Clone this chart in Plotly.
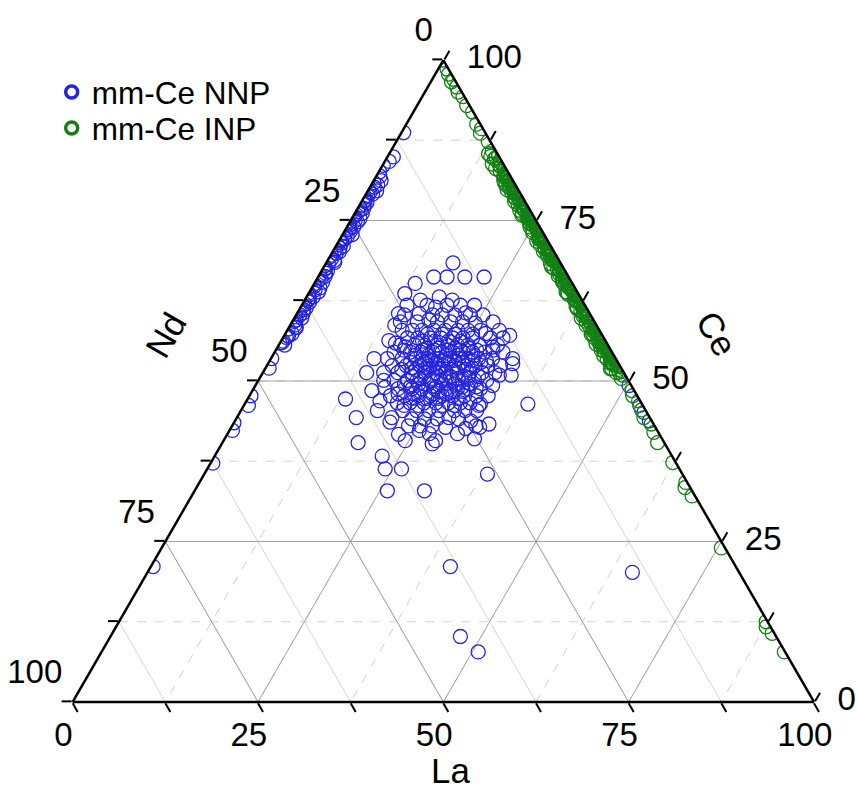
import plotly.graph_objects as go

# ---------------- data (percent) ----------------
# mm-Ce NNP : Ce and La given, Nd = remainder (computed by plotly, sum = 100)
nnp_ce = [
    # outer / scattered points
    68.4, 66.2, 66.2, 66.2, 66.2, 65.2, 63.6, 62.6, 63.1, 62.6,
    61.5, 60.5, 60.5, 60.6, 58.7, 57.9, 59.5, 59.0, 56.3, 55.9,
    57.4, 57.1, 53.5, 55.3, 53.5, 55.3, 47.2, 44.3, 40.4, 45.4,
    49.0, 50.1, 44.3, 43.6, 41.7, 43.0, 42.3, 41.8, 40.7, 40.2,
    52.7, 50.9, 50.9, 49.3, 46.4, 46.4, 43.3, 43.0, 42.8, 42.6,
    41.8, 41.0, 42.8, 45.4, 44.3, 43.8, 40.7, 38.3, 36.3, 36.3,
    32.9, 32.9, 35.5, 21.1, 10.2, 7.8, 20.2, 51.3, 48.5, 46.9,
    # dense core
    61.8, 61.8, 61.8, 61.8, 61.8,
    60.3, 60.3, 60.3, 60.3, 60.3, 60.3,
    59.2, 59.2, 59.2, 59.2, 59.2, 59.2,
    57.9, 57.9, 57.9, 57.9, 57.9, 57.9, 57.9, 57.9,
    56.7, 56.7, 56.7, 56.7, 56.7, 56.7, 56.7, 56.7, 56.7,
    55.6, 55.6, 55.6, 55.6, 55.6, 55.6, 55.6, 55.6, 55.6,
    54.5, 54.5, 54.5, 54.5, 54.5, 54.5, 54.5, 54.5, 54.5, 54.5,
    53.5, 53.5, 53.5, 53.5, 53.5, 53.5, 53.5, 53.5, 53.5, 53.5,
    52.4, 52.4, 52.4, 52.4, 52.4, 52.4, 52.4, 52.4, 52.4, 52.4,
    51.3, 51.3, 51.3, 51.3, 51.3, 51.3, 51.3, 51.3, 51.3, 51.3,
    50.1, 50.1, 50.1, 50.1, 50.1, 50.1, 50.1, 50.1, 50.1,
    48.8, 48.8, 48.8, 48.8, 48.8, 48.8, 48.8, 48.8,
    47.7, 47.7, 47.7, 47.7, 47.7, 47.7, 47.7, 47.7, 47.7,
    46.6, 46.6, 46.6, 46.6, 46.6, 46.6, 46.6,
    45.4, 45.4, 45.4, 45.4, 45.4, 45.4,
    44.1, 44.1, 44.1, 44.1,
    43.0, 43.0,
    56.2, 56.2, 56.2, 56.2,
    55.1, 55.1, 55.1, 55.1,
    54.0, 54.0, 54.0, 54.0, 54.0,
    52.9, 52.9, 52.9, 52.9, 52.9, 52.9,
    51.8, 51.8, 51.8, 51.8, 51.8, 51.8,
    50.7, 50.7, 50.7, 50.7, 50.7, 50.7,
    49.5, 49.5, 49.5, 49.5, 49.5, 49.5,
    48.4, 48.4, 48.4, 48.4,
    47.3, 47.3, 47.3, 47.3,
    57.3, 57.3, 57.3, 57.3,
    54.8, 54.8, 54.8, 54.8, 54.8, 54.8, 54.8,
    53.2, 53.2, 53.2, 53.2, 53.2, 53.2,
    52.0, 52.0, 52.0, 52.0, 52.0,
    50.4, 50.4, 50.4, 50.4, 50.4,
    49.1, 49.1, 49.1, 49.1,
    48.0, 48.0, 48.0, 48.0,
    46.2, 46.2, 46.2, 46.2, 46.2,
    # along the Ce-Nd side (La ~ 0)
    88.7, 84.9, 83.6, 81.9, 81.2, 80.9, 80.2, 79.8, 79.1, 78.8,
    78.2, 77.8, 77.2, 76.7, 76.1, 75.6, 75.0, 74.6, 74.0, 73.6,
    73.0, 72.5, 72.0, 71.5, 71.0, 70.4, 69.9, 69.3, 68.8, 68.2,
    67.6, 67.1, 66.5, 66.0, 65.4, 64.8, 64.2, 63.7, 63.1, 62.6,
    62.0, 61.4, 60.9, 60.3, 59.8, 59.3, 58.7, 58.1, 57.4, 56.8,
    56.2, 55.6, 53.5, 52.0, 47.7, 46.2, 43.5, 42.3, 37.2, 21.1,
    84.2, 82.6, 80.5, 79.4, 78.5, 77.5, 76.4, 75.3, 74.3, 73.3,
    72.2, 71.2, 70.1, 69.0, 67.9, 66.8, 65.7, 64.5, 63.4, 62.3,
    61.1, 60.0, 58.4, 57.1, 55.9,
    79.6, 78.0, 76.9, 75.8, 74.8, 73.8, 72.8, 71.8, 70.7, 69.6,
    68.5, 67.4, 66.3, 65.1, 63.9, 62.8, 61.7, 60.6, 59.5, 58.3,
    57.0, 56.0,
    # along the Ce-La side (Nd ~ 0)
    56.0, 53.7, 49.3, 46.2, 45.1, 43.8,
]
nnp_la = [
    17.1, 15.6, 17.4, 19.8, 22.4, 13.6, 13.0, 15.6, 17.9, 19.9,
    18.2, 13.7, 16.5, 22.7, 14.1, 16.9, 18.3, 24.8, 14.5, 15.6,
    27.0, 30.4, 13.9, 29.0, 32.6, 17.2, 13.2, 16.1, 18.3, 18.4,
    17.6, 16.9, 20.9, 21.0, 23.1, 23.8, 25.6, 27.2, 24.5, 28.4,
    33.0, 32.1, 33.7, 32.0, 31.8, 38.2, 34.5, 32.9, 33.5, 31.7,
    31.0, 33.7, 28.9, 26.7, 28.6, 31.8, 28.6, 22.6, 24.0, 26.2,
    26.0, 31.0, 38.2, 40.4, 47.2, 50.8, 65.4, 14.0, 16.1, 18.0,
    14.2, 16.9, 19.6, 21.4, 23.3,
    14.6, 18.4, 19.7, 21.4, 23.5, 25.2,
    14.6, 16.9, 19.6, 21.4, 23.0, 27.1,
    15.5, 18.2, 19.8, 21.3, 23.0, 24.4, 26.1, 28.6,
    16.8, 18.2, 19.9, 21.3, 22.9, 24.3, 25.6, 28.0, 29.7,
    16.4, 18.3, 19.7, 21.4, 22.8, 24.1, 25.5, 27.1, 29.5,
    16.1, 18.3, 19.7, 21.3, 22.6, 24.0, 25.4, 26.7, 28.3, 30.8,
    15.7, 17.7, 19.6, 21.1, 22.6, 24.1, 25.3, 26.6, 28.0, 29.9,
    16.9, 18.8, 20.7, 22.0, 23.7, 25.3, 26.6, 28.1, 29.8, 31.5,
    16.3, 18.2, 20.1, 21.8, 23.3, 24.7, 26.2, 27.9, 29.6, 31.3,
    18.3, 20.1, 21.4, 23.2, 24.6, 26.2, 27.5, 29.2, 30.8,
    19.5, 21.4, 22.7, 24.4, 26.0, 27.5, 29.0, 30.6,
    19.0, 20.9, 22.8, 24.4, 26.0, 27.4, 29.0, 30.6, 32.2,
    20.5, 22.2, 24.1, 25.7, 27.4, 29.0, 30.3,
    21.8, 23.7, 25.3, 28.8, 30.2, 31.8,
    23.7, 25.4, 27.1, 30.0,
    25.4, 27.0,
    19.1, 20.7, 22.6, 24.2,
    20.3, 21.8, 24.0, 25.9,
    19.1, 21.0, 23.4, 25.0, 27.2,
    19.1, 21.0, 22.6, 24.2, 26.1, 28.6,
    18.5, 20.4, 22.2, 23.7, 25.3, 27.2,
    20.5, 22.1, 24.0, 25.6, 27.5, 29.4,
    20.0, 21.9, 23.2, 25.1, 26.8, 28.9,
    22.7, 25.1, 26.8, 28.4,
    22.2, 24.1, 25.7, 28.4,
    19.2, 21.2, 22.9, 25.3,
    17.3, 19.8, 21.4, 23.3, 24.9, 27.1, 29.3,
    20.5, 21.9, 23.5, 24.9, 27.3, 29.2,
    19.8, 21.7, 23.3, 26.0, 27.9,
    21.7, 23.3, 25.2, 26.8, 28.2,
    21.0, 24.5, 28.0, 29.9,
    19.9, 22.0, 24.5, 26.4,
    21.6, 23.5, 26.8, 28.4, 31.7,
    0.3, 0.8, 0.1, 0.5, 1.0, 0.2, 0.6, 0.0, 0.9, 0.4,
    0.3, 0.8, 0.1, 0.5, 1.0, 0.2, 0.6, 0.0, 0.9, 0.4,
    0.3, 0.8, 0.1, 0.5, 1.0, 0.2, 0.6, 0.0, 0.9, 0.4,
    0.3, 0.8, 0.1, 0.5, 1.0, 0.2, 0.6, 0.0, 0.9, 0.4,
    0.3, 0.8, 0.1, 0.5, 1.0, 0.2, 0.6, 0.0, 0.9, 0.4,
    0.3, 0.8, 0.1, 0.5, 0.2, 0.6, 0.0, 0.4, 0.3, 0.3,
    0.6, 0.1, 0.9, 0.4, 0.0, 0.7, 0.3, 1.1, 0.2, 0.8,
    0.6, 0.1, 0.9, 0.4, 0.0, 0.7, 0.3, 1.1, 0.2, 0.8,
    0.6, 0.1, 0.9, 0.4, 0.0,
    1.2, 0.4, 0.8, 0.0, 1.0, 0.5, 1.3, 0.2, 0.7, 0.1,
    1.1, 0.3, 0.9, 0.0, 1.2, 0.5, 0.2, 0.8, 0.4, 1.0,
    0.6, 0.2,
    43.7, 46.0, 50.4, 53.4, 54.5, 55.9,
]

# mm-Ce INP : Ce and Nd given, La = remainder (computed by plotly)
inp_ce = [
    100.0, 98.6, 97.8, 97.0, 96.6, 95.8, 95.0, 94.3, 92.9, 91.9,
    90.0, 89.3, 88.6, 87.3, 84.8, 83.3,
    82.1, 81.6, 81.2, 80.7, 80.1, 79.6, 79.2, 78.8, 78.3, 77.7,
    77.2, 76.8, 76.3, 75.9, 75.4, 74.8, 74.3, 73.9, 73.4, 72.9,
    72.5, 72.0, 71.4, 71.0, 70.5, 70.1, 69.6, 69.0, 68.6, 68.1,
    67.7, 67.2, 66.6, 66.2, 65.7, 65.3, 64.8, 64.2, 63.8, 63.3,
    62.9, 62.4, 61.8, 61.4, 60.9, 60.5, 60.0, 59.4, 59.0, 58.5,
    58.1, 57.6, 57.0, 56.6, 56.1, 55.7, 55.2, 54.6, 54.2, 53.7,
    53.3, 52.8, 52.2, 51.8, 51.3, 50.9, 50.4,
    81.9, 81.4, 80.9, 80.4, 79.9, 79.4, 79.0, 78.5, 78.0, 77.5,
    77.0, 76.5, 76.1, 75.6, 75.1, 74.6, 74.1, 73.6, 73.1, 72.7,
    72.2, 71.7, 71.2, 70.7, 70.3, 69.8, 69.3, 68.8, 68.3, 67.9,
    67.4, 66.9, 66.4, 65.9, 65.5, 65.0, 64.5, 64.0, 63.5, 63.1,
    62.6, 62.1, 61.6, 61.1, 60.7, 60.2, 59.7, 59.2, 58.7, 58.3,
    57.8, 57.3, 56.8, 56.3, 55.9, 55.4, 54.9, 54.4, 53.9, 53.5,
    53.0, 52.5, 52.0, 51.5,
    85.8, 85.4, 85.1, 84.6, 84.1, 83.8, 83.4, 83.0, 82.7, 82.3,
    81.8, 81.3, 81.0, 80.6, 80.3, 79.8, 79.5, 79.1, 78.6, 78.2,
    77.9, 77.4, 77.1, 76.7, 76.2, 75.8, 75.5, 75.0, 74.7, 74.2,
    73.8, 73.5, 73.0, 72.6, 72.3, 71.8, 71.5, 71.1, 70.6, 70.2,
    69.9, 69.4, 69.1, 68.7, 68.2, 67.8, 67.5, 67.0, 66.7, 66.3,
    65.8, 65.4, 65.1, 64.6, 64.3, 63.9, 63.4, 63.0, 62.7, 62.2,
    61.9, 61.5, 61.0, 60.6, 60.3, 59.8, 59.5, 59.1, 58.6, 58.2,
    57.9, 57.4, 57.1, 56.7, 56.2, 55.8, 55.5, 55.0, 54.7, 54.3,
    53.8, 53.4, 53.1, 52.6, 52.3, 51.9, 51.4,
    85.0, 84.4, 83.7, 83.1, 82.5, 81.8, 81.1, 80.5, 79.8, 79.2,
    78.5, 77.9, 77.3, 76.6, 76.0, 75.3, 74.7, 74.0, 73.4, 72.8,
    72.1, 71.5, 70.8, 70.2, 69.5, 68.9, 68.3, 67.6, 67.0, 66.3,
    65.7, 65.0, 64.4, 63.8, 63.1, 62.5, 61.8, 61.2, 60.5, 59.9,
    59.3, 58.6, 58.0, 57.3, 56.7, 56.0, 55.4, 54.8, 54.1, 53.5,
    52.8, 52.2,
    48.5, 47.7, 46.9, 45.5, 44.3, 43.3, 42.0, 40.4, 37.3, 34.2,
    33.4, 32.1, 24.0, 12.5, 11.7, 10.7, 7.8,
]
inp_nd = [
    0.0, 0.2, 0.4, 0.1, 0.6, 0.3, 0.5, 0.2, 0.4, 0.1,
    0.5, 0.2, 0.7, 0.3, 0.5, 0.2,
    0.2, 0.7, 0.0, 0.5, 1.0, 0.3, 0.8, 0.1, 0.6, 0.4,
    0.2, 0.7, 0.0, 0.5, 1.0, 0.3, 0.8, 0.1, 0.6, 0.4,
    0.2, 0.7, 0.0, 0.5, 1.0, 0.3, 0.8, 0.1, 0.6, 0.4,
    0.2, 0.7, 0.0, 0.5, 1.0, 0.3, 0.8, 0.1, 0.6, 0.4,
    0.2, 0.7, 0.0, 0.5, 1.0, 0.3, 0.8, 0.1, 0.6, 0.4,
    0.2, 0.7, 0.0, 0.5, 1.0, 0.3, 0.8, 0.1, 0.6, 0.4,
    0.2, 0.7, 0.0, 0.5, 1.0, 0.3, 0.8,
    0.9, 0.4, 1.3, 0.1, 0.7, 1.1, 0.2, 0.6, 1.4, 0.3,
    0.9, 0.4, 1.3, 0.1, 0.7, 1.1, 0.2, 0.6, 1.4, 0.3,
    0.9, 0.4, 1.3, 0.1, 0.7, 1.1, 0.2, 0.6, 1.4, 0.3,
    0.9, 0.4, 1.3, 0.1, 0.7, 1.1, 0.2, 0.6, 1.4, 0.3,
    0.9, 0.4, 1.3, 0.1, 0.7, 1.1, 0.2, 0.6, 1.4, 0.3,
    0.9, 0.4, 1.3, 0.1, 0.7, 1.1, 0.2, 0.6, 1.4, 0.3,
    0.9, 0.4, 1.3, 0.1,
    0.5, 1.2, 0.0, 0.8, 0.3, 1.5, 0.6, 0.1, 1.0, 0.4,
    0.5, 1.2, 0.0, 0.8, 0.3, 1.5, 0.6, 0.1, 1.0, 0.4,
    0.5, 1.2, 0.0, 0.8, 0.3, 1.5, 0.6, 0.1, 1.0, 0.4,
    0.5, 1.2, 0.0, 0.8, 0.3, 1.5, 0.6, 0.1, 1.0, 0.4,
    0.5, 1.2, 0.0, 0.8, 0.3, 1.5, 0.6, 0.1, 1.0, 0.4,
    0.5, 1.2, 0.0, 0.8, 0.3, 1.5, 0.6, 0.1, 1.0, 0.4,
    0.5, 1.2, 0.0, 0.8, 0.3, 1.5, 0.6, 0.1, 1.0, 0.4,
    0.5, 1.2, 0.0, 0.8, 0.3, 1.5, 0.6, 0.1, 1.0, 0.4,
    0.5, 1.2, 0.0, 0.8, 0.3, 1.5, 0.6,
    1.1, 0.0, 0.6, 1.4, 0.2, 0.9, 0.5, 1.3, 0.1, 0.7,
    1.1, 0.0, 0.6, 1.4, 0.2, 0.9, 0.5, 1.3, 0.1, 0.7,
    1.1, 0.0, 0.6, 1.4, 0.2, 0.9, 0.5, 1.3, 0.1, 0.7,
    1.1, 0.0, 0.6, 1.4, 0.2, 0.9, 0.5, 1.3, 0.1, 0.7,
    1.1, 0.0, 0.6, 1.4, 0.2, 0.9, 0.5, 1.3, 0.1, 0.7,
    1.1, 0.0,
    0.3, 0.6, 0.2, 0.5, 0.8, 0.3, 0.6, 0.9, 0.4, 0.2,
    0.7, 0.4, 0.5, 0.2, 0.6, 0.3, 0.1,
]

series_names = ["mm-Ce NNP", "mm-Ce INP"]
axis_titles = {"left": "Nd", "right": "Ce", "bottom": "La"}
all_ticks = [0, 12.5, 25, 37.5, 50, 62.5, 75, 87.5, 100]
label_ticks = [0, 25, 50, 75, 100]
major_vals = [25, 50, 75]

BLUE = "#2424dc"
GREEN = "#138013"
FONT = "Arial, Liberation Sans, sans-serif"
TICK_FONT = dict(family=FONT, size=33, color="black")
NBSP = "\u00a0"

fig = go.Figure()

# major grid lines (solid mid-grey)
ga, gb, gc = [], [], []
for v in major_vals:
    ga += [v, v, None, 100 - v, 0, None, 100 - v, 0, None]
    gb += [100 - v, 0, None, v, v, None, 0, 100 - v, None]
    gc += [0, 100 - v, None, 0, 100 - v, None, v, v, None]
fig.add_trace(go.Scatterternary(a=ga, b=gb, c=gc, mode="lines",
                                line=dict(color="#a3a3a3", width=1),
                                hoverinfo="skip", showlegend=False))

fig.add_trace(go.Scatterternary(
    a=nnp_ce, c=nnp_la, mode="markers", name=series_names[0], showlegend=False,
    marker=dict(symbol="circle-open", size=14, color=BLUE, line=dict(width=1.3))))
fig.add_trace(go.Scatterternary(
    a=inp_ce, b=inp_nd, mode="markers", name=series_names[1], showlegend=False,
    marker=dict(symbol="circle-open", size=14, color=GREEN, line=dict(width=1.3))))

# tick labels placed at edge points through the ternary scale
def edge_labels(a, b, c, texts, pos, msize):
    return go.Scatterternary(
        a=a, b=b, c=c, mode="markers+text", text=texts,
        textposition=pos, textfont=TICK_FONT, cliponaxis=False,
        marker=dict(size=msize, color="rgba(0,0,0,0)", line=dict(width=0)),
        hoverinfo="skip", showlegend=False)

labels = [str(v) for v in label_ticks]
# left edge: Nd values (La = 0)
fig.add_trace(edge_labels([100 - v for v in label_ticks], label_ticks, [0] * 5,
                          labels, "top left", 15))
# bottom edge: La values (Ce = 0)
fig.add_trace(edge_labels([0] * 5, [100 - v for v in label_ticks], label_ticks,
                          [t + NBSP * 2 for t in labels], "bottom center", 30))
# right edge: Ce values (Nd = 0)
fig.add_trace(edge_labels(label_ticks, [0] * 5, [100 - v for v in label_ticks],
                          labels, "middle right", 36))

# legend entries
for i, (name, col) in enumerate(zip(series_names, [BLUE, GREEN])):
    fig.add_trace(go.Scatterternary(
        a=[None], c=[None], mode="markers", name=name, showlegend=True,
        legend="legend" if i == 0 else "legend2",
        marker=dict(symbol="circle-open", size=12, color=col, line=dict(width=3.5))))

def axis(dash):
    return dict(tickmode="array", tickvals=all_ticks, showticklabels=False,
                ticks="outside", ticklen=10, tickwidth=2, tickcolor="black",
                showline=True, linecolor="black", linewidth=2.5,
                showgrid=True, gridcolor="#d4d4d4", gridwidth=1, griddash=dash,
                title=dict(text=""), min=0, layer="above traces")

leg = dict(x=0.0603, xanchor="left", yanchor="middle",
           font=dict(family=FONT, size=31.5, color="black"),
           bgcolor="rgba(0,0,0,0)")

fig.update_layout(
    width=857, height=808,
    margin=dict(l=0, r=0, t=0, b=0),
    paper_bgcolor="white",
    ternary=dict(sum=100, bgcolor="white",
                 domain=dict(x=[72.7 / 857, 814 / 857], y=[1 - 702 / 808, 1 - 60 / 808]),
                 aaxis=axis("dash"), baxis=axis("solid"), caxis=axis("dash")),
    showlegend=True,
    legend=dict(leg, y=1 - 92 / 808),
    legend2=dict(leg, y=1 - 128 / 808),
    annotations=[
        dict(text=axis_titles["left"], x=165 / 857, y=1 - 335 / 808, xref="paper", yref="paper",
             xanchor="center", yanchor="middle",
             showarrow=False, textangle=-60, font=dict(family=FONT, size=35, color="black")),
        dict(text=axis_titles["right"], x=717 / 857, y=1 - 333 / 808, xref="paper", yref="paper",
             xanchor="center", yanchor="middle",
             showarrow=False, textangle=60, font=dict(family=FONT, size=35, color="black")),
        dict(text=axis_titles["bottom"], x=450 / 857, y=1 - 770 / 808, xref="paper", yref="paper",
             xanchor="center", yanchor="middle",
             showarrow=False, font=dict(family=FONT, size=35, color="black")),
    ],
)

fig.write_html("out.html")
